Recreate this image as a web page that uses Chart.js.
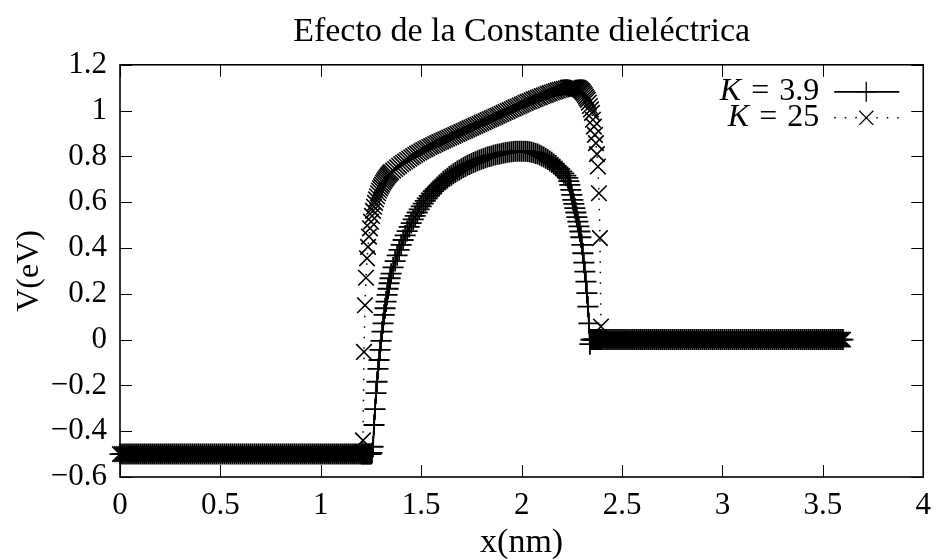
<!DOCTYPE html>
<html>
<head>
<meta charset="utf-8">
<script src="https://cdn.jsdelivr.net/npm/chart.js@4/dist/chart.umd.min.js"></script>
<style>
html,body{margin:0;padding:0;background:#fff;}
#wrap{width:941px;height:560px;}
</style>
</head>
<body>
<div id="wrap"><canvas id="c" width="941" height="560"></canvas></div>
<script>
// ---------------- data ----------------
const chartTitle = 'Efecto de la Constante dieléctrica';
const xTitle = 'x(nm)';
const yTitle = 'V(eV)';
const seriesK = ['3.9', '25'];

const xTicks = [0, 0.5, 1, 1.5, 2, 2.5, 3, 3.5, 4];
const xTickLabels = ['0', '0.5', '1', '1.5', '2', '2.5', '3', '3.5', '4'];
const yTicks = [-0.6, -0.4, -0.2, 0, 0.2, 0.4, 0.6, 0.8, 1, 1.2];
const yTickLabels = ['\u22120.6', '\u22120.4', '\u22120.2', '0', '0.2', '0.4', '0.6', '0.8', '1', '1.2'];

// x positions (nm)
const xs = [
0,0.01,0.02,0.03,0.04,0.05,0.06,0.07,0.08,0.09,
0.10,0.11,0.12,0.13,0.14,0.15,0.16,0.17,0.18,0.19,
0.20,0.21,0.22,0.23,0.24,0.25,0.26,0.27,0.28,0.29,
0.30,0.31,0.32,0.33,0.34,0.35,0.36,0.37,0.38,0.39,
0.40,0.41,0.42,0.43,0.44,0.45,0.46,0.47,0.48,0.49,
0.50,0.51,0.52,0.53,0.54,0.55,0.56,0.57,0.58,0.59,
0.60,0.61,0.62,0.63,0.64,0.65,0.66,0.67,0.68,0.69,
0.70,0.71,0.72,0.73,0.74,0.75,0.76,0.77,0.78,0.79,
0.80,0.81,0.82,0.83,0.84,0.85,0.86,0.87,0.88,0.89,
0.90,0.91,0.92,0.93,0.94,0.95,0.96,0.97,0.98,0.99,
1.00,1.01,1.02,1.03,1.04,1.05,1.06,1.07,1.08,1.09,
1.10,1.11,1.12,1.13,1.14,1.15,1.16,1.17,1.18,1.19,
1.20,
1.205,1.21,1.215,1.22,1.225,1.23,1.235,1.24,1.245,1.25,
1.255,1.26,1.265,1.27,1.275,1.28,1.285,1.29,1.295,1.30,
1.305,1.31,1.315,1.32,1.325,1.33,1.335,1.34,1.345,1.35,
1.36,1.37,1.38,1.39,
1.40,1.41,1.42,1.43,1.44,1.45,1.46,1.47,1.48,1.49,
1.50,1.51,1.52,1.53,1.54,1.55,1.56,1.57,1.58,1.59,
1.60,1.61,1.62,1.63,1.64,1.65,1.66,1.67,1.68,1.69,
1.70,1.71,1.72,1.73,1.74,1.75,1.76,1.77,1.78,1.79,
1.80,1.81,1.82,1.83,1.84,1.85,1.86,1.87,1.88,1.89,
1.90,1.91,1.92,1.93,1.94,1.95,1.96,1.97,1.98,1.99,
2.00,2.01,2.02,2.03,2.04,2.05,2.06,2.07,2.08,2.09,
2.10,2.11,2.12,2.13,2.14,2.15,2.16,2.17,2.18,2.19,
2.20,2.21,2.22,2.23,
2.235,2.24,2.245,2.25,2.255,2.26,2.265,2.27,2.275,2.28,
2.285,2.29,2.295,2.30,2.305,2.31,2.315,2.32,2.325,2.33,
2.335,2.34,2.345,2.35,2.355,2.36,2.365,2.37,2.375,2.38,
2.385,2.39,2.395,2.40,
2.41,2.42,2.43,2.44,2.45,2.46,2.47,2.48,2.49,
2.50,2.51,2.52,2.53,2.54,2.55,2.56,2.57,2.58,2.59,
2.60,2.61,2.62,2.63,2.64,2.65,2.66,2.67,2.68,2.69,
2.70,2.71,2.72,2.73,2.74,2.75,2.76,2.77,2.78,2.79,
2.80,2.81,2.82,2.83,2.84,2.85,2.86,2.87,2.88,2.89,
2.90,2.91,2.92,2.93,2.94,2.95,2.96,2.97,2.98,2.99,
3.00,3.01,3.02,3.03,3.04,3.05,3.06,3.07,3.08,3.09,
3.10,3.11,3.12,3.13,3.14,3.15,3.16,3.17,3.18,3.19,
3.20,3.21,3.22,3.23,3.24,3.25,3.26,3.27,3.28,3.29,
3.30,3.31,3.32,3.33,3.34,3.35,3.36,3.37,3.38,3.39,
3.40,3.41,3.42,3.43,3.44,3.45,3.46,3.47,3.48,3.49,
3.50,3.51,3.52,3.53,3.54,3.55,3.56,3.57,3.58,3.59,
3.60
];

// V(eV) for K = 3.9
const vK39 = [
-0.5,-0.5,-0.5,-0.5,-0.5,-0.5,-0.5,-0.5,-0.5,-0.5,
-0.5,-0.5,-0.5,-0.5,-0.5,-0.5,-0.5,-0.5,-0.5,-0.5,
-0.5,-0.5,-0.5,-0.5,-0.5,-0.5,-0.5,-0.5,-0.5,-0.5,
-0.5,-0.5,-0.5,-0.5,-0.5,-0.5,-0.5,-0.5,-0.5,-0.5,
-0.5,-0.5,-0.5,-0.5,-0.5,-0.5,-0.5,-0.5,-0.5,-0.5,
-0.5,-0.5,-0.5,-0.5,-0.5,-0.5,-0.5,-0.5,-0.5,-0.5,
-0.5,-0.5,-0.5,-0.5,-0.5,-0.5,-0.5,-0.5,-0.5,-0.5,
-0.5,-0.5,-0.5,-0.5,-0.5,-0.5,-0.5,-0.5,-0.5,-0.5,
-0.5,-0.5,-0.5,-0.5,-0.5,-0.5,-0.5,-0.5,-0.5,-0.5,
-0.5,-0.5,-0.5,-0.5,-0.5,-0.5,-0.5,-0.5,-0.5,-0.5,
-0.5,-0.5,-0.5,-0.5,-0.5,-0.5,-0.5,-0.5,-0.5,-0.5,
-0.5,-0.5,-0.5,-0.5,-0.5,-0.5,-0.5,-0.5,-0.5,-0.5,
-0.5,
-0.5,-0.5,-0.5,-0.5,-0.5,-0.5,-0.5,-0.5,-0.5,-0.5,
-0.495,-0.468,-0.373,-0.304,-0.234,-0.184,-0.128,-0.089,-0.045,-0.006,
0.035,0.071,0.108,0.137,0.166,0.195,0.222,0.246,0.268,0.288,
0.315,0.343,0.368,0.392,
0.414,0.435,0.455,0.474,0.492,0.509,0.525,0.540,0.555,0.569,
0.582,0.594,0.606,0.617,0.628,0.638,0.648,0.657,0.666,0.675,
0.683,0.691,0.698,0.705,0.712,0.718,0.724,0.730,0.736,0.741,
0.746,0.751,0.756,0.761,0.765,0.769,0.773,0.777,0.781,0.784,
0.788,0.791,0.794,0.797,0.800,0.802,0.805,0.807,0.809,0.811,
0.813,0.815,0.816,0.818,0.819,0.820,0.821,0.822,0.822,0.823,
0.823,0.823,0.822,0.821,0.820,0.818,0.816,0.813,0.810,0.806,
0.802,0.797,0.792,0.786,0.780,0.774,0.767,0.760,0.752,0.744,
0.735,0.726,0.716,0.706,
0.692,0.676,0.654,0.632,0.610,0.593,0.574,0.555,0.535,0.515,
0.494,0.472,0.447,0.414,0.377,0.336,0.297,0.253,0.203,0.144,
0.071,-0.02,0,0,0,0,0,0,0,0,
0,0,0,0,
0,0,0,0,0,0,0,0,0,
0,0,0,0,0,0,0,0,0,0,
0,0,0,0,0,0,0,0,0,0,
0,0,0,0,0,0,0,0,0,0,
0,0,0,0,0,0,0,0,0,0,
0,0,0,0,0,0,0,0,0,0,
0,0,0,0,0,0,0,0,0,0,
0,0,0,0,0,0,0,0,0,0,
0,0,0,0,0,0,0,0,0,0,
0,0,0,0,0,0,0,0,0,0,
0,0,0,0,0,0,0,0,0,0,
0,0,0,0,0,0,0,0,0,0,
0
];

// V(eV) for K = 25
const vK25 = [
-0.5,-0.5,-0.5,-0.5,-0.5,-0.5,-0.5,-0.5,-0.5,-0.5,
-0.5,-0.5,-0.5,-0.5,-0.5,-0.5,-0.5,-0.5,-0.5,-0.5,
-0.5,-0.5,-0.5,-0.5,-0.5,-0.5,-0.5,-0.5,-0.5,-0.5,
-0.5,-0.5,-0.5,-0.5,-0.5,-0.5,-0.5,-0.5,-0.5,-0.5,
-0.5,-0.5,-0.5,-0.5,-0.5,-0.5,-0.5,-0.5,-0.5,-0.5,
-0.5,-0.5,-0.5,-0.5,-0.5,-0.5,-0.5,-0.5,-0.5,-0.5,
-0.5,-0.5,-0.5,-0.5,-0.5,-0.5,-0.5,-0.5,-0.5,-0.5,
-0.5,-0.5,-0.5,-0.5,-0.5,-0.5,-0.5,-0.5,-0.5,-0.5,
-0.5,-0.5,-0.5,-0.5,-0.5,-0.5,-0.5,-0.5,-0.5,-0.5,
-0.5,-0.5,-0.5,-0.5,-0.5,-0.5,-0.5,-0.5,-0.5,-0.5,
-0.5,-0.5,-0.5,-0.5,-0.5,-0.5,-0.5,-0.5,-0.5,-0.5,
-0.5,-0.5,-0.5,-0.5,-0.5,-0.5,-0.5,-0.5,-0.5,-0.5,
-0.5,
-0.49,-0.44,-0.054,0.15,0.27,0.355,0.405,0.45,0.486,0.515,
0.540,0.562,0.580,0.597,0.612,0.626,0.639,0.650,0.660,0.669,
0.677,0.685,0.692,0.699,0.705,0.711,0.717,0.722,0.727,0.732,
0.738,0.745,0.752,0.759,
0.766,0.772,0.778,0.784,0.790,0.796,0.801,0.807,0.812,0.817,
0.822,0.827,0.832,0.836,0.841,0.845,0.849,0.854,0.858,0.862,
0.866,0.870,0.874,0.878,0.882,0.886,0.890,0.894,0.898,0.902,
0.906,0.910,0.914,0.918,0.922,0.926,0.930,0.934,0.938,0.942,
0.946,0.950,0.954,0.958,0.962,0.966,0.970,0.974,0.978,0.982,
0.986,0.990,0.994,0.998,1.002,1.006,1.010,1.014,1.018,1.022,
1.026,1.030,1.034,1.038,1.041,1.045,1.049,1.052,1.056,1.059,
1.063,1.066,1.069,1.073,1.076,1.079,1.082,1.085,1.088,1.091,
1.093,1.095,1.097,1.099,
1.100,1.100,1.101,1.102,1.102,1.102,1.102,1.101,1.100,1.099,
1.097,1.094,1.090,1.086,1.081,1.075,1.068,1.061,1.054,1.047,
1.035,1.020,1.005,0.990,0.960,0.930,0.894,0.858,0.810,0.756,
0.639,0.443,0.057,0,
0,0,0,0,0,0,0,0,0,
0,0,0,0,0,0,0,0,0,0,
0,0,0,0,0,0,0,0,0,0,
0,0,0,0,0,0,0,0,0,0,
0,0,0,0,0,0,0,0,0,0,
0,0,0,0,0,0,0,0,0,0,
0,0,0,0,0,0,0,0,0,0,
0,0,0,0,0,0,0,0,0,0,
0,0,0,0,0,0,0,0,0,0,
0,0,0,0,0,0,0,0,0,0,
0,0,0,0,0,0,0,0,0,0,
0,0,0,0,0,0,0,0,0,0,
0
];

// ---------------- chart ----------------
if (xs.length !== vK39.length || xs.length !== vK25.length) {
  console.error('length mismatch', xs.length, vK39.length, vK25.length);
}
function pts(v) { return xs.map((x, i) => ({ x: x, y: v[i] })); }

const FONT = '"Liberation Serif", "Times New Roman", serif';
Chart.defaults.font.family = FONT;
Chart.defaults.color = '#000';

function drawMarker(ctx, style, r, cx, cy) {
  ctx.beginPath();
  if (style === 'cross') {
    ctx.moveTo(cx - r, cy); ctx.lineTo(cx + r, cy);
    ctx.moveTo(cx, cy - r); ctx.lineTo(cx, cy + r);
  } else {
    const d = r * Math.SQRT1_2;
    ctx.moveTo(cx - d, cy - d); ctx.lineTo(cx + d, cy + d);
    ctx.moveTo(cx - d, cy + d); ctx.lineTo(cx + d, cy - d);
  }
  ctx.stroke();
}

const framePlugin = {
  id: 'frame',
  afterDraw(chart) {
    const { ctx, chartArea: a } = chart;
    const xs_ = chart.scales.x, ys_ = chart.scales.y;
    ctx.save();
    ctx.strokeStyle = '#000';
    ctx.lineWidth = 1;
    ctx.setLineDash([]);
    ctx.beginPath();
    xs_.ticks.forEach(t => {
      const px = Math.round(xs_.getPixelForValue(t.value)) + 0.5;
      ctx.moveTo(px, a.bottom); ctx.lineTo(px, a.bottom - 12);
      ctx.moveTo(px, a.top); ctx.lineTo(px, a.top + 12);
    });
    ys_.ticks.forEach(t => {
      const py = Math.round(ys_.getPixelForValue(t.value)) + 0.5;
      ctx.moveTo(a.left, py); ctx.lineTo(a.left + 12, py);
      ctx.moveTo(a.right, py); ctx.lineTo(a.right - 12, py);
    });
    ctx.stroke();
    ctx.lineWidth = 1.6;
    ctx.strokeRect(a.left, a.top, a.right - a.left, a.bottom - a.top);

    // key (top right, text then sample, like the reference)
    chart.data.datasets.forEach((ds, i) => {
      const cy = a.top + 27 + i * 26;
      const textRight = a.right - 104;
      const gap = 10;
      ctx.fillStyle = '#000';
      ctx.textBaseline = 'middle';
      ctx.textAlign = 'left';
      ctx.font = '32px ' + FONT;
      const wVal = ctx.measureText(seriesK[i]).width;
      const wEq = ctx.measureText('=').width;
      let xPos = textRight - wVal;
      ctx.fillText(seriesK[i], xPos, cy);
      xPos -= gap + wEq;
      ctx.fillText('=', xPos, cy);
      ctx.font = 'italic 32px ' + FONT;
      const wK = ctx.measureText('K').width;
      xPos -= gap + wK;
      ctx.fillText('K', xPos, cy);
      ctx.lineWidth = ds.borderWidth;
      ctx.setLineDash(ds.borderDash || []);
      ctx.beginPath();
      ctx.moveTo(a.right - 89, cy); ctx.lineTo(a.right - 24, cy);
      ctx.stroke();
      ctx.setLineDash([]);
      ctx.lineWidth = 1.3;
      drawMarker(ctx, ds.pointStyle, 10, a.right - 57, cy);
    });
    ctx.restore();
  }
};

new Chart(document.getElementById('c'), {
  type: 'scatter',
  data: {
    datasets: [
      {
        label: 'K = ' + seriesK[0],
        data: pts(vK39),
        showLine: true,
        borderColor: '#000',
        borderWidth: 1.8,
        pointStyle: 'cross',
        pointRadius: 10.5,
        pointBorderWidth: 1.8,
        pointBorderColor: '#000',
        pointBackgroundColor: '#000',
        clip: false,
        tension: 0
      },
      {
        label: 'K = ' + seriesK[1],
        data: pts(vK25),
        showLine: true,
        borderColor: '#000',
        borderWidth: 1.5,
        borderDash: [1.5, 9],
        pointStyle: 'crossRot',
        pointRadius: 11,
        pointBorderWidth: 1.6,
        pointBorderColor: '#000',
        pointBackgroundColor: '#000',
        clip: false,
        tension: 0
      }
    ]
  },
  options: {
    responsive: false,
    animation: false,
    events: [],
    devicePixelRatio: 1,
    layout: { padding: { left: 0, right: 10, top: 0, bottom: 0 } },
    plugins: {
      legend: { display: false },
      tooltip: { enabled: false },
      title: {
        display: true,
        text: chartTitle,
        fullSize: false,
        color: '#000',
        font: { family: FONT, size: 34, weight: 'normal', lineHeight: 1.2 },
        padding: { top: 12, bottom: 12 }
      }
    },
    scales: {
      x: {
        type: 'linear',
        min: 0, max: 4,
        afterBuildTicks: s => { s.ticks = xTicks.map(v => ({ value: v })); },
        afterFit: s => { s.height = 83; },
        grid: { display: false, drawTicks: false },
        border: { display: false },
        ticks: {
          padding: 10,
          maxRotation: 0,
          font: { family: FONT, size: 31 },
          color: '#000',
          callback: (v, i) => xTickLabels[i]
        },
        title: {
          display: true, text: xTitle, color: '#000',
          font: { family: FONT, size: 34, lineHeight: 1 },
          padding: { top: 0, bottom: 0 }
        }
      },
      y: {
        type: 'linear',
        min: -0.6, max: 1.2,
        afterBuildTicks: s => { s.ticks = yTicks.map(v => ({ value: v })); },
        afterFit: s => { s.width = 120; },
        grid: { display: false, drawTicks: false },
        border: { display: false },
        ticks: {
          padding: 13,
          font: { family: FONT, size: 31 },
          color: '#000',
          callback: (v, i) => yTickLabels[i]
        },
        title: {
          display: true, text: yTitle, color: '#000',
          font: { family: FONT, size: 32, lineHeight: 1 },
          padding: { top: 14, bottom: 0 }
        }
      }
    }
  },
  plugins: [framePlugin]
});
</script>
</body>
</html>
